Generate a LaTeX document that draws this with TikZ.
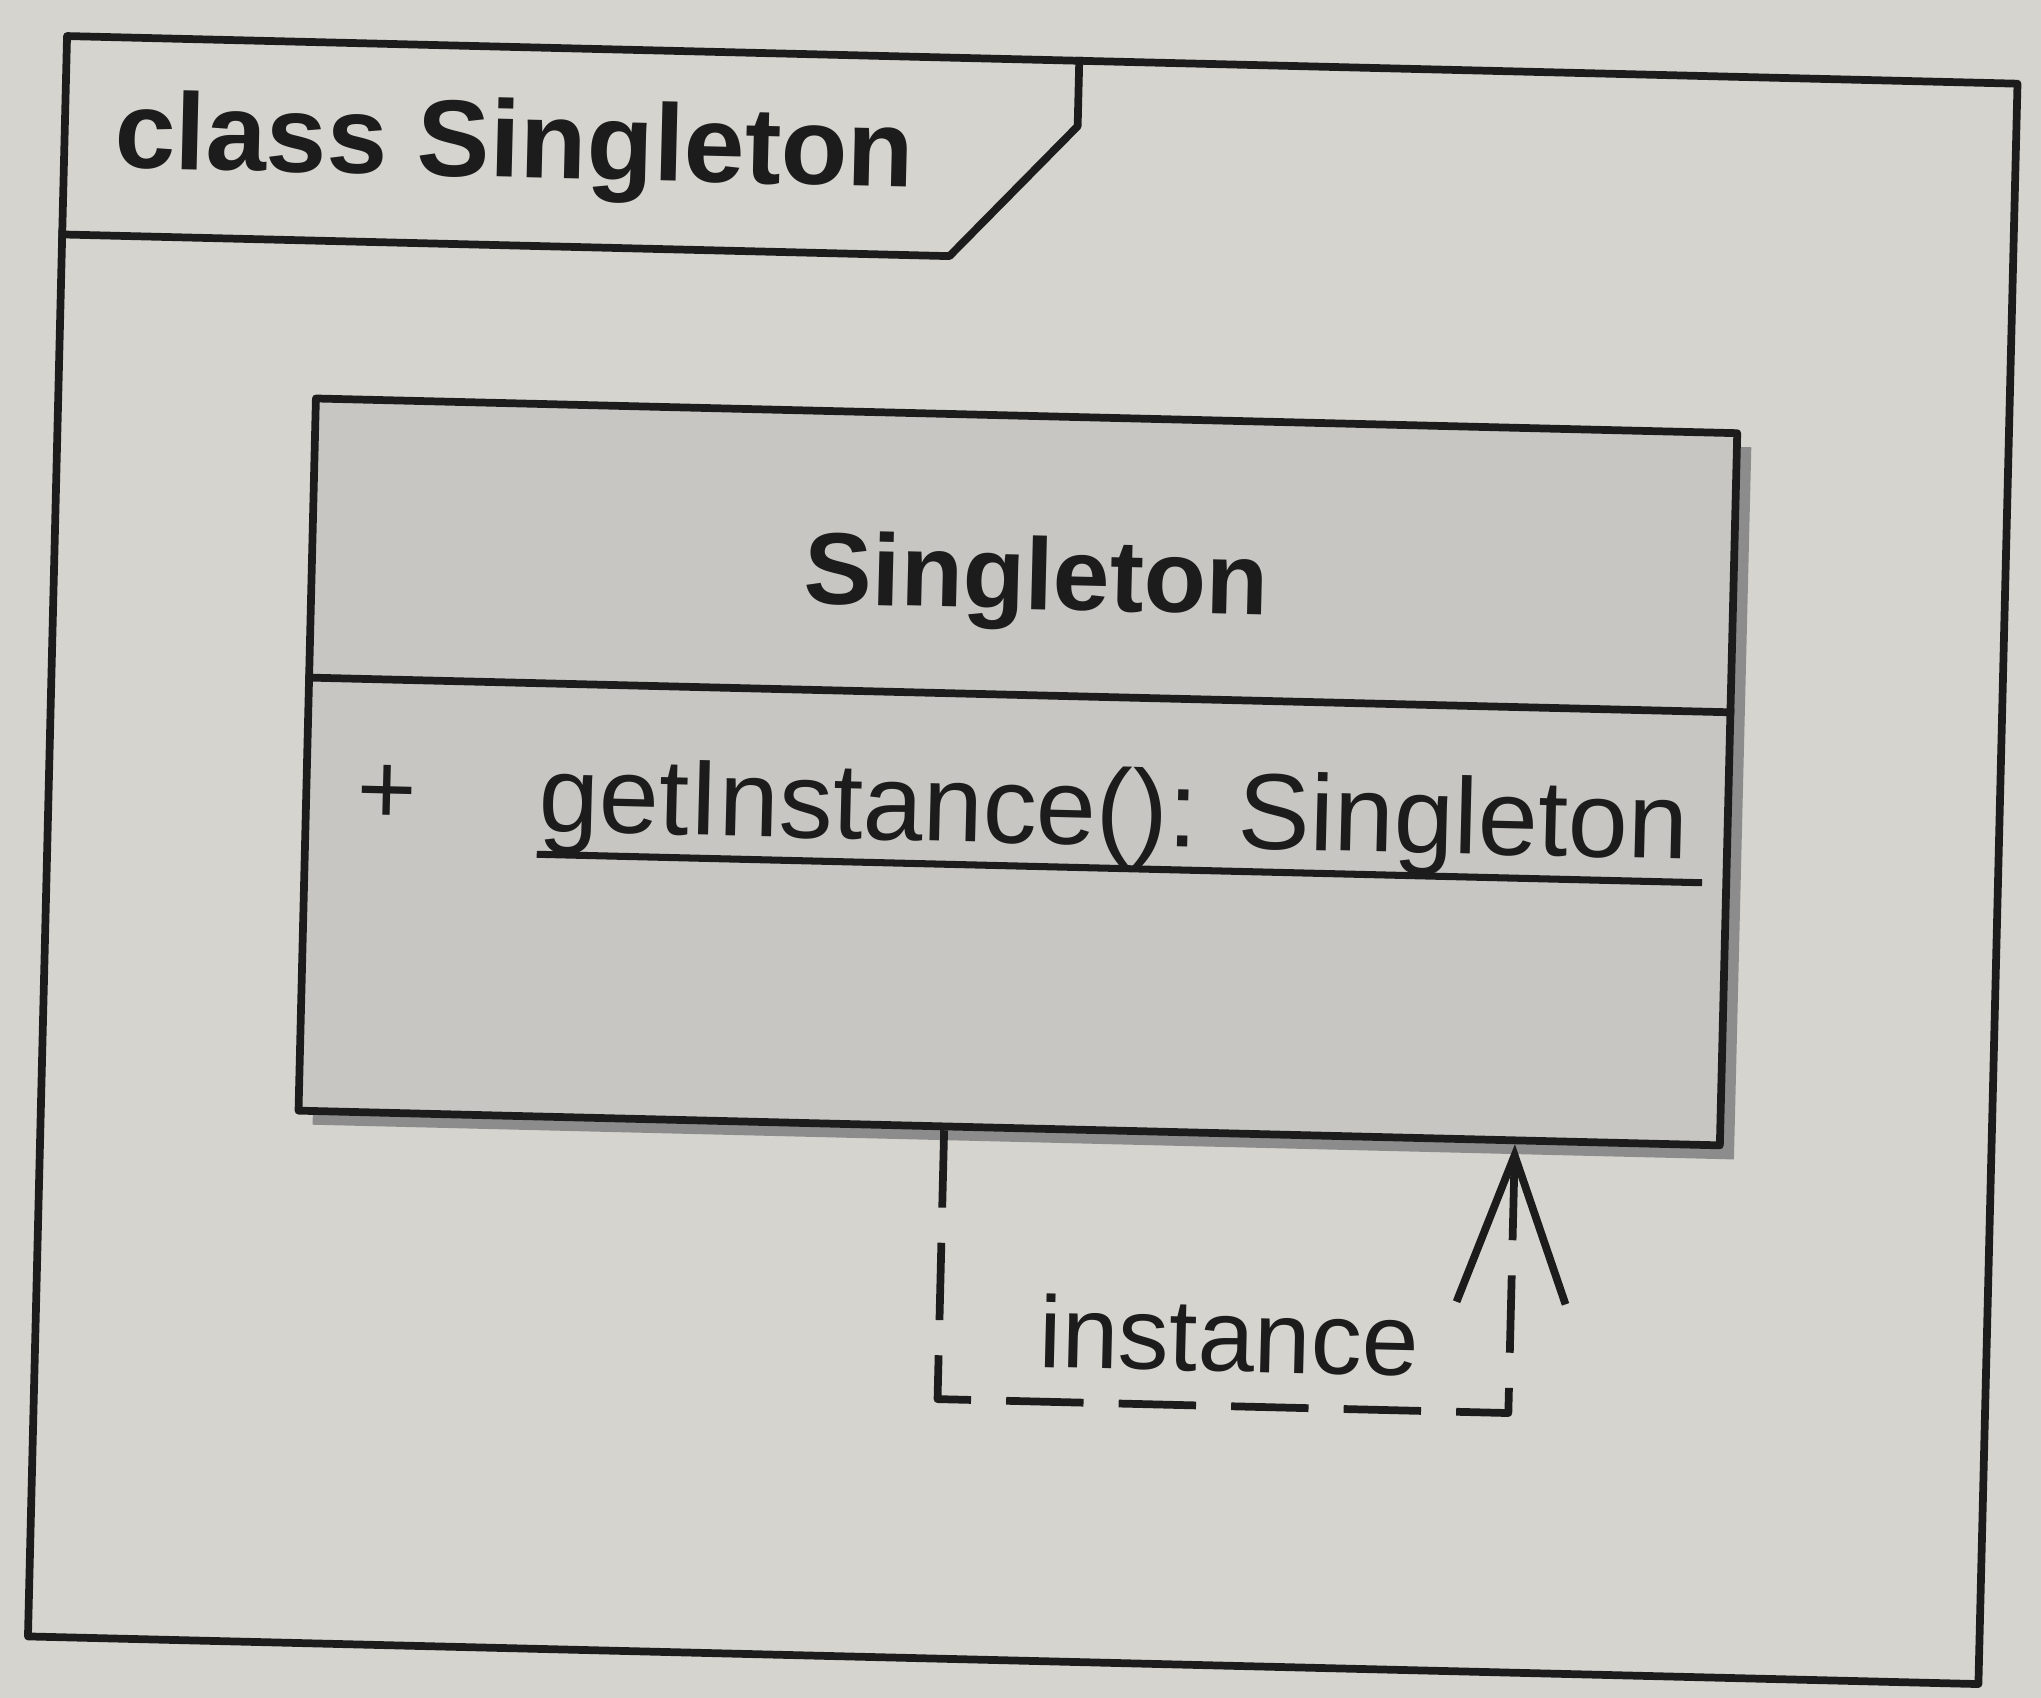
\documentclass[tikz,border=0pt]{standalone}
\usepackage{fontspec}
\newfontfamily\umlfont{Liberation Sans}
\usetikzlibrary{arrows.meta,shadows}
\definecolor{paper}{RGB}{214,212,206}
\definecolor{boxgray}{RGB}{199,198,194}
\definecolor{ink}{RGB}{28,28,28}
\begin{document}
\begin{tikzpicture}[x=0.01cm, y=-0.01cm, font=\umlfont, line join=round, >={Straight Barb[length=42pt,width=31pt]},
	umlline/.style={draw=ink, line width=2.2pt},
	framebox/.style={umlline, minimum width=19.5cm, minimum height=16cm},
	classbox/.style={umlline, fill=boxgray, minimum width=14.21cm, minimum height=7.12cm,
		drop shadow={shadow xshift=4pt, shadow yshift=-4pt, fill=black!45, opacity=1}},
	umltext/.style={text=ink, inner sep=0pt, font=\umlfont\fontsize{29}{34}\selectfont},
	umlbold/.style={umltext, font=\umlfont\bfseries\fontsize{29}{34}\selectfont},
	assoc/.style={umlline, dash pattern=on 22pt off 10pt, ->}]
	\fill[paper] (0,0) rectangle (2041,1698);
	\begin{scope}[rotate around={-1.4:(1020,849)}, transform shape]
		\node[framebox] (frame) at (1023,860) {};
		\draw[umlline] (frame.west |- 0,258) -- (935,258) -- (1060,125) -- (frame.north -| 1060,0);
		\node[umlbold, anchor=base west, font=\umlfont\bfseries\fontsize{31}{36}\selectfont] (frametitle) at (97,190) {class Singleton};
		\node[classbox] (singleton) at (1016,772) {};
		\draw[umlline] (singleton.west |- 0,695) -- (singleton.east |- 0,695);
		\path
		node[umlbold, anchor=base] (classname) at (1030,609) {Singleton}
		node[umltext, anchor=base] (vis) at (386,840) {+}
		node[umltext, anchor=base west, font=\umlfont\fontsize{30.7}{36}\selectfont] (getinst) at (537,843) {getInstance(): Singleton};
		\draw[ink, line width=2pt] (getinst.south west) -- ([xshift=4pt]getinst.south east);
		\draw[assoc] (singleton.south -| 951,0) |- (1522,1401) -- (singleton.south -| 1522,0);
		\node[umltext] (instlabel) at (1241,1330) {instance};
	\end{scope}
\end{tikzpicture}
\end{document}
